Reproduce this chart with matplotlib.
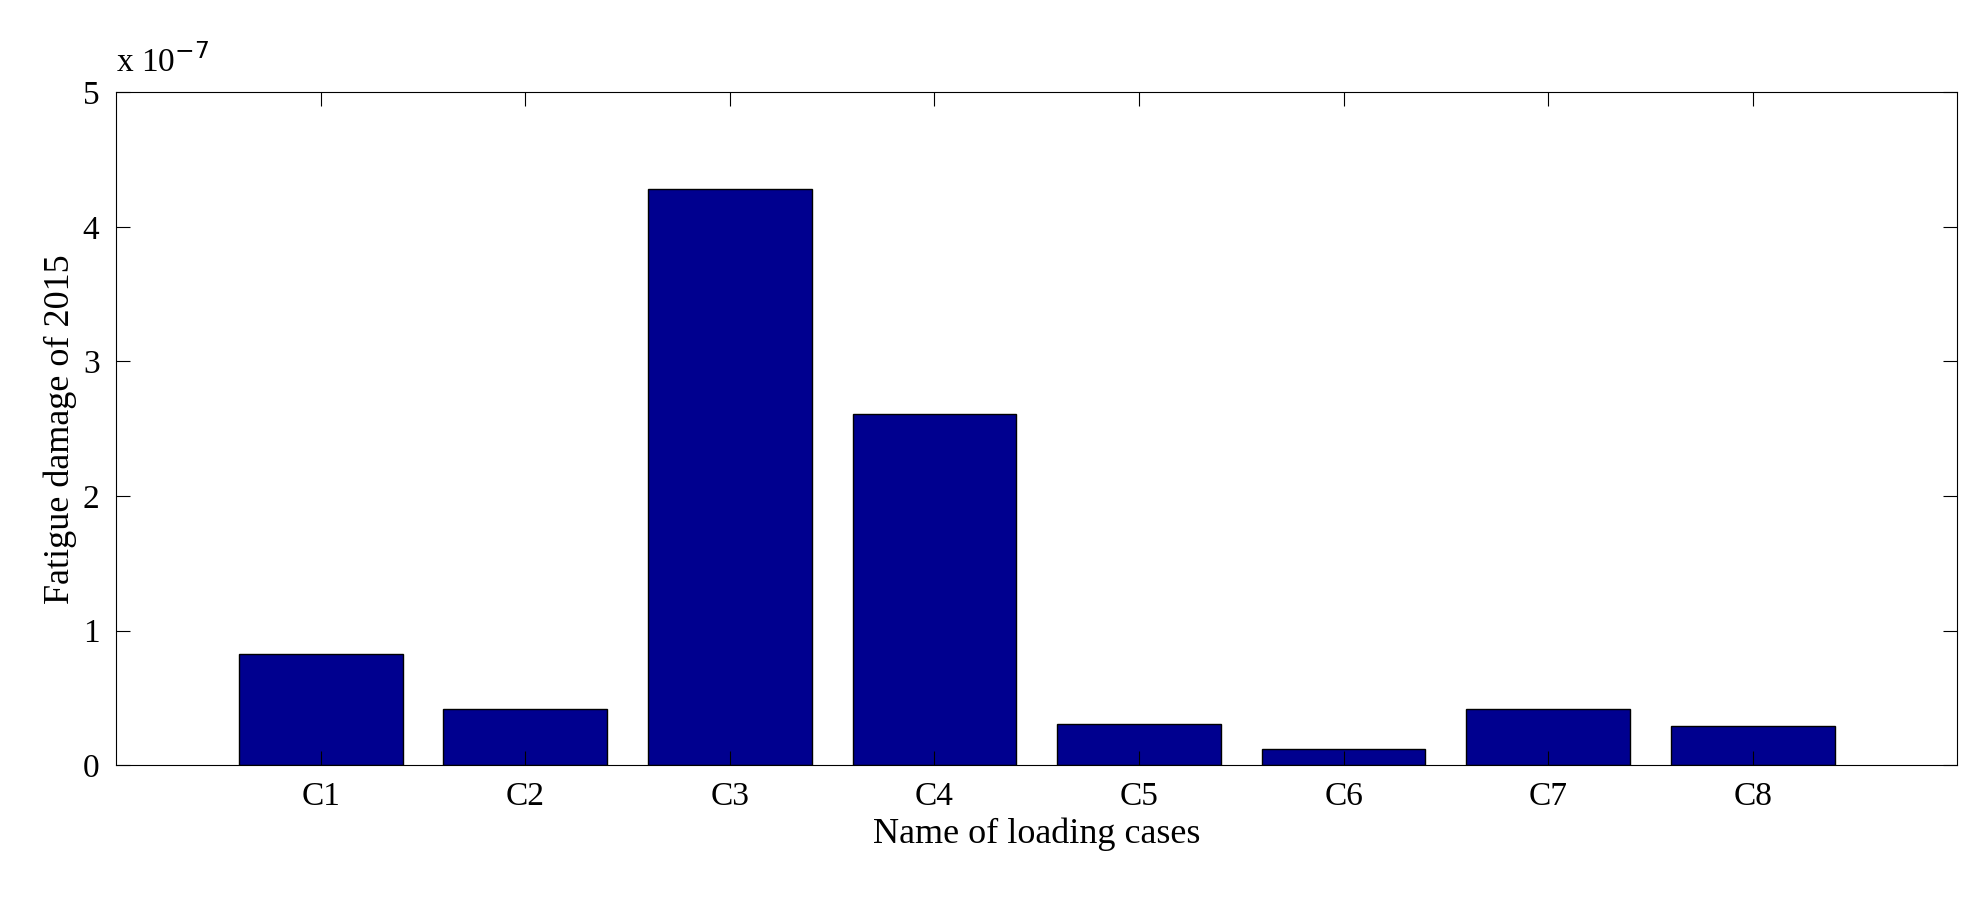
import matplotlib
matplotlib.use("Agg")
import matplotlib.pyplot as plt

categories = ["C1", "C2", "C3", "C4", "C5", "C6", "C7", "C8"]
values = [0.83, 0.42, 4.28, 2.61, 0.31, 0.12, 0.42, 0.29]  # x 1e-7

plt.rcParams['font.family'] = ['Liberation Serif', 'DejaVu Serif']
fig = plt.figure(figsize=(19.82, 9.22), dpi=100)
ax = fig.add_axes([0.0586, 0.170, 0.929, 0.730])
pos = list(range(1, len(categories) + 1))
ax.bar(pos, values, width=0.8, color='#00008F', edgecolor='black', linewidth=1.0)
ax.set_xlim(0, 9)
ax.set_ylim(0, 5)
ax.set_xticks(pos)
ax.set_xticklabels(categories)
ax.set_yticks([0, 1, 2, 3, 4, 5])
ax.tick_params(direction='in', top=True, right=True, length=10, labelsize=24, pad=12)
ax.set_xlabel("Name of loading cases", fontsize=26)
ax.set_ylabel("Fatigue damage of 2015", fontsize=26)
ax.text(0.0, 1.02, r"x 10$^{-7}$", transform=ax.transAxes, fontsize=24, va='bottom')
fig.savefig("out.png", dpi=100)
